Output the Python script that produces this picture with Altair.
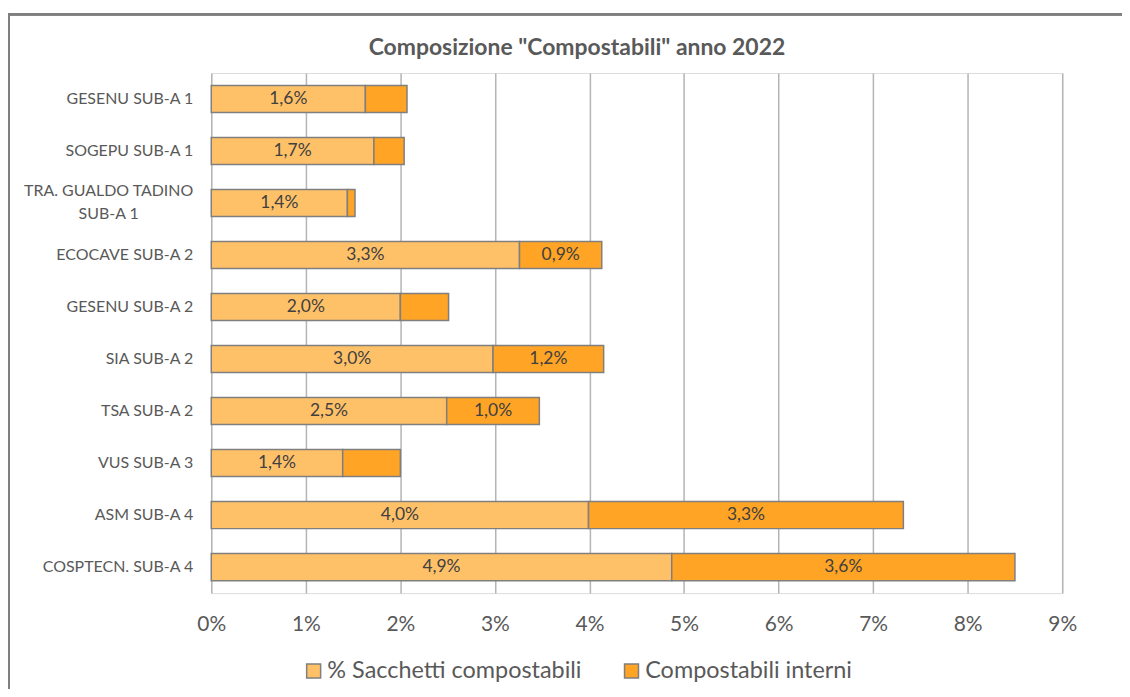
import altair as alt
import pandas as pd

categories = [
    "GESENU SUB-A 1",
    "SOGEPU SUB-A 1",
    "TRA. GUALDO TADINO\nSUB-A 1",
    "ECOCAVE SUB-A 2",
    "GESENU SUB-A 2",
    "SIA SUB-A 2",
    "TSA SUB-A 2",
    "VUS SUB-A 3",
    "ASM SUB-A 4",
    "COSPTECN. SUB-A 4",
]
sacchetti = [1.63, 1.72, 1.44, 3.26, 2.00, 2.98, 2.49, 1.39, 3.99, 4.87]
interni = [0.44, 0.32, 0.08, 0.87, 0.51, 1.17, 0.98, 0.61, 3.33, 3.63]
series = ["% Sacchetti compostabili", "Compostabili interni"]
colors = ["#FFC168", "#FFA424"]
x_ticks = [0, 1, 2, 3, 4, 5, 6, 7, 8, 9]
title_text = 'Composizione "Compostabili" anno 2022'

FONT = "Lato"
GREY = "#595959"

rows = []
for c, a, b in zip(categories, sacchetti, interni):
    rows.append({"cat": c, "series": series[0], "ord": 0, "value": a})
    rows.append({"cat": c, "series": series[1], "ord": 1, "value": b})
df = pd.DataFrame(rows)

cat_df = pd.DataFrame({"cat": categories, "multi": ["\n" in c for c in categories]})
title_df = pd.DataFrame({"t": [title_text]})

y_enc = alt.Y("cat:N", sort=categories,
              scale=alt.Scale(domain=categories, paddingInner=0.48, paddingOuter=0.24),
              axis=None)

base = alt.Chart(df).transform_stack(
    stack="value", groupby=["cat"], as_=["x0", "x1"],
    sort=[alt.SortField("ord", order="ascending")]
).transform_calculate(
    mid="(datum.x0 + datum.x1) / 2",
    lbl="replace(format(datum.value, '.1f'), '.', ',') + '%'"
)

x_scale = alt.Scale(domain=[0, 9], nice=False, zero=True)

bars = base.mark_bar(stroke="#7f7f7f", strokeWidth=1.5).encode(
    x=alt.X("x0:Q", scale=x_scale,
            axis=alt.Axis(values=x_ticks, labelExpr="datum.value + '%'", title=None,
                          grid=True, gridColor="#b4b4b4", gridWidth=1.5,
                          domain=False, ticks=False, labelFont=FONT, labelFontSize=21,
                          labelColor=GREY, labelPadding=21, labelFlush=False)),
    x2="x1:Q",
    y=y_enc,
    color=alt.Color("series:N", scale=alt.Scale(domain=series, range=colors),
                    legend=alt.Legend(title=None, orient="none", legendX=91, legendY=588,
                                      direction="horizontal", symbolType="square",
                                      symbolSize=196, symbolStrokeColor="#7f7f7f",
                                      symbolStrokeWidth=1.5, labelFont=FONT,
                                      labelFontSize=23.5, labelColor=GREY,
                                      columnPadding=38, labelOffset=2, labelLimit=400)),
    order=alt.Order("ord:Q"),
)

labels = base.transform_filter("datum.value >= 0.8").mark_text(
    font=FONT, fontSize=17.5, color="#404040", align="center", baseline="middle"
).encode(
    x=alt.X("mid:Q", scale=x_scale),
    y=y_enc,
    text="lbl:N",
)

ylab_single = alt.Chart(cat_df).transform_filter("!datum.multi").mark_text(
    font=FONT, fontSize=16, color=GREY, align="right", baseline="middle"
).encode(
    x=alt.value(-18),
    y=y_enc,
    text="cat:N",
)

ylab_multi = alt.Chart(cat_df).transform_filter("datum.multi").mark_text(
    font=FONT, fontSize=16, color=GREY, align="center", baseline="middle",
    lineBreak="\n", lineHeight=23, dy=-12
).encode(
    x=alt.value(-103),
    y=y_enc,
    text="cat:N",
)

title_mark = alt.Chart(title_df).mark_text(
    font=FONT, fontSize=23, fontWeight="bold", color=GREY, align="center", baseline="middle"
).encode(
    x=alt.value(367), y=alt.value(-25), text="t:N"
)

border_top = alt.Chart(cat_df).mark_rule(color="#7f7f7f", strokeWidth=2).encode(
    x=alt.value(-204), x2=alt.value(930), y=alt.value(-59)
)
border_left = alt.Chart(cat_df).mark_rule(color="#7f7f7f", strokeWidth=2).encode(
    x=alt.value(-203), y=alt.value(-59), y2=alt.value(640)
)

chart = alt.layer(bars, labels, ylab_single, ylab_multi, title_mark, border_top, border_left).properties(
    width=854,
    height=522,
    autosize=alt.AutoSizeParams(type="none"),
    padding={"left": 204, "top": 64, "right": 60, "bottom": 95},
).configure_view(
    stroke="#a0a0a0", strokeWidth=1.5
).configure(background="white")

chart.save("out.html", embed_options={"renderer": "svg", "actions": False})
